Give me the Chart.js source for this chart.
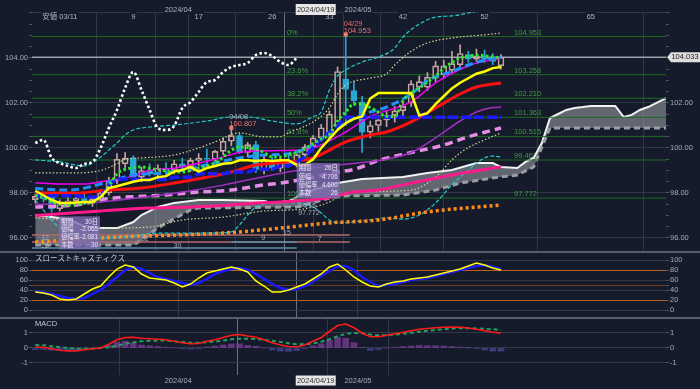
<!DOCTYPE html>
<html lang="ja">
<head>
<meta charset="utf-8">
<title>一目均衡表</title>
<script src="https://cdn.jsdelivr.net/npm/chart.js@4.4.1/dist/chart.umd.min.js"></script>
<style>
  html, body { margin: 0; padding: 0; background: #151b2a; }
  #wrap { position: relative; width: 700px; height: 389px; overflow: hidden; background: #151b2a; }
  canvas { position: absolute; left: 0; }
  .divider { position: absolute; left: 0; width: 700px; height: 2px; background: #565c69; }
</style>
</head>
<body>
<div id="wrap">
  <canvas id="mainChart" width="700" height="251" style="top:0"></canvas>
  <div class="divider" style="top:251px"></div>
  <canvas id="stochChart" width="700" height="64" style="top:253px"></canvas>
  <div class="divider" style="top:317px"></div>
  <canvas id="macdChart" width="700" height="70" style="top:319px"></canvas>
</div>
<script>
// bar index 0 = 03/11, one bar per weekday
const FIRST_BAR = -3;
const X_MIN = -3.4, X_MAX = 74.2;

// candles, bars -3 .. 54
const candleOpen = [97.70, 97.85, 97.85, 97.30, 97.60, 97.65, 97.75, 97.55, 97.75, 98.00,
  98.55, 99.30, 99.55, 98.70, 99.00, 98.85, 99.10, 99.00, 99.30, 99.15,
  99.45, 99.55, 99.50, 99.85, 100.30, 100.55, 99.80, 100.15, 99.05, 99.45,
  99.10, 99.40, 99.30, 99.70, 100.05, 100.45, 100.60, 101.00, 103.05, 102.55,
  102.05, 100.70, 101.00, 101.25, 101.45, 101.65, 102.00, 102.70, 102.70, 103.10,
  103.25, 103.45, 103.70, 104.15, 103.95, 104.10, 103.95, 103.65];
const candleHigh = [97.95, 98.05, 97.95, 97.70, 97.80, 97.90, 97.95, 97.85, 98.10, 98.70,
  99.75, 99.80, 99.65, 99.15, 99.30, 99.25, 99.35, 99.45, 99.55, 99.55,
  99.75, 99.95, 99.90, 100.45, 100.807, 100.65, 100.25, 100.30, 99.65, 99.60,
  99.55, 99.70, 99.85, 100.15, 100.55, 101.05, 101.65, 103.60, 104.953, 102.95,
  102.30, 101.20, 101.45, 101.65, 101.85, 102.05, 103.00, 103.20, 103.35, 103.85,
  103.90, 104.30, 104.58, 104.30, 104.40, 104.35, 104.20, 104.15];
const candleLow = [97.55, 97.60, 97.15, 97.20, 97.40, 97.45, 97.50, 97.40, 97.60, 97.90,
  98.40, 99.05, 98.55, 98.50, 98.75, 98.65, 98.80, 98.85, 99.00, 98.95,
  99.20, 99.35, 99.35, 99.70, 100.10, 99.75, 99.60, 98.90, 98.85, 99.00,
  98.95, 99.15, 99.15, 99.50, 99.90, 100.30, 100.40, 100.90, 101.00, 101.90,
  99.80, 100.45, 100.75, 100.95, 101.15, 101.35, 101.85, 102.50, 102.55, 102.95,
  103.10, 103.30, 103.55, 103.80, 103.85, 103.80, 103.70, 103.50];
const candleClose = [97.85, 97.75, 97.30, 97.60, 97.65, 97.75, 97.55, 97.75, 98.00, 98.55,
  99.50, 99.55, 98.70, 99.00, 98.85, 99.10, 99.00, 99.30, 99.15, 99.45,
  99.55, 99.50, 99.85, 100.30, 100.55, 99.80, 100.15, 99.05, 99.45, 99.10,
  99.40, 99.30, 99.70, 100.05, 100.45, 100.90, 101.50, 103.40, 102.60, 102.10,
  100.70, 101.00, 101.25, 101.45, 101.65, 101.85, 102.85, 102.95, 103.15, 103.65,
  103.65, 103.75, 104.20, 103.95, 104.10, 103.95, 103.85, 104.033];

// per-bar indicator lines, bars -3 .. 54
const tenkanSen = [98.10, 97.90, 97.69, 97.56, 97.56, 97.58, 97.60, 97.60, 97.82, 98.22,
  98.30, 98.40, 98.50, 98.58, 98.58, 98.70, 98.75, 98.95, 99.02, 99.16,
  98.95, 99.11, 99.20, 99.30, 99.33, 99.45, 99.45, 99.42, 99.45, 99.42,
  99.45, 99.45, 99.24, 99.25, 99.50, 100.00, 100.40, 100.80, 101.10, 101.30,
  101.40, 102.20, 102.44, 102.44, 102.44, 102.44, 102.44, 101.45, 101.55, 101.95,
  102.30, 102.65, 102.90, 103.10, 103.30, 103.40, 103.55, 103.60];
const kijunSen = [97.88, 97.88, 97.88, 97.88, 97.88, 97.88, 97.82, 97.82, 97.82, 98.36,
  98.62, 98.62, 98.62, 98.60, 98.60, 98.60, 98.60, 98.70, 98.70, 98.70,
  98.85, 98.85, 98.85, 98.85, 98.93, 98.93, 98.93, 99.05, 99.05, 99.05,
  99.20, 99.20, 99.38, 99.60, 100.00, 100.40, 100.70, 101.00, 101.363, 101.363,
  101.363, 101.363, 101.363, 101.363, 101.363, 101.363, 101.363, 101.363, 101.363, 101.363,
  101.363, 101.363, 101.363, 101.363, 101.363, 101.363, 101.363, 101.363];
const fastAvg = [97.90, 97.80, 97.60, 97.50, 97.45, 97.50, 97.55, 97.60, 97.80, 98.30,
  98.85, 99.05, 99.12, 99.16, 99.10, 99.03, 98.98, 98.93, 98.93, 99.00,
  99.10, 99.20, 99.33, 99.60, 99.90, 100.04, 100.02, 99.95, 99.80, 99.60,
  99.60, 99.70, 99.80, 99.95, 100.20, 100.40, 100.60, 101.20, 101.60, 101.95,
  101.95, 101.80, 101.60, 101.40, 101.40, 102.10, 102.45, 102.67, 102.93, 103.20,
  103.55, 103.80, 104.00, 104.08, 104.13, 104.10, 104.05, 104.00];
// lagging span, bars -3 .. 29
const chikouSpan = [100.22, 100.36, 99.56, 99.33, 99.20, 99.11, 99.29, 99.38, 100.00, 100.89,
  101.69, 102.67, 103.38, 102.58, 101.69, 100.89, 100.80, 100.98, 101.78, 102.04,
  102.49, 102.93, 103.02, 103.38, 103.60, 103.69, 103.78, 104.13, 104.22, 104.09,
  103.82, 103.69, 104.00];

// smooth lines read as [bar, value]
const senkouA = [[-3, 97.02], [-1, 96.93], [1, 96.84], [3, 96.53], [5, 96.44], [7, 96.44], [9, 96.71],
  [10, 97.02], [12, 97.38], [14, 97.56], [17, 97.69], [20, 97.69], [25, 97.64], [26, 97.56], [28, 97.64],
  [29, 97.82], [31, 98.13], [34, 98.44], [37, 98.62], [42, 98.71], [45, 98.89], [48, 99.02], [51, 99.33],
  [53, 99.33], [54, 99.16], [56, 99.11], [57, 99.38], [58, 99.56], [59, 100.22], [60, 101.33], [61, 101.51],
  [62, 101.69], [63, 101.78], [64, 101.82], [65, 101.87], [68, 101.87], [69, 101.38], [70, 101.47],
  [71, 101.69], [72, 101.82], [74.2, 102.22]];
const senkouB = [[-3, 95.69], [9, 95.69], [10, 95.91], [11, 96.18], [12, 96.45], [13, 96.65], [14, 96.85],
  [15, 97.05], [16, 97.25], [17, 97.33], [29, 97.38], [30, 97.47], [33, 97.78], [35, 97.87], [42, 97.91],
  [46, 98.13], [49, 98.44], [53, 98.67], [56, 98.80], [58, 99.16], [59, 100.04], [60, 100.89], [74.2, 100.89]];
const bandUpperWide = [[-3, 99.47], [0, 99.38], [3, 99.2], [5, 99.6], [6, 99.91], [7, 100.22], [8, 100.58],
  [9, 100.8], [11, 100.93], [14, 101.02], [18, 101.2], [21, 101.38], [23, 101.38], [26, 101.2], [29, 101.07],
  [31, 101.4], [32, 101.6], [33, 102.58], [34, 103.2], [35, 103.47], [37, 103.82], [39, 104.04], [41, 104.44],
  [42, 104.93], [44, 105.51], [46, 105.82], [48, 105.87], [50, 106.0], [52, 106.15], [54, 106.3]];
const bandLowerWide = [[-3, 97.69], [-2, 97.24], [-1, 96.8], [0, 96.44], [2, 96.13], [5, 96.0], [9, 96.09],
  [12, 96.22], [18, 96.22], [21, 96.27], [22, 96.58], [23, 97.02], [24, 97.38], [25, 97.51], [27, 97.56],
  [29, 97.56], [31, 97.38], [32, 97.11], [33, 96.8], [34, 96.67], [37, 96.76], [40, 96.89], [42, 96.84],
  [44, 97.02], [46, 97.56], [48, 98.36], [50, 99.02], [52, 99.56], [53, 99.64], [54, 99.6]];
const bandUpperNarrow = [[-3, 98.89], [1, 98.89], [5, 99.0], [7, 99.3], [8, 99.5], [10, 99.56], [14, 99.69],
  [17, 100.0], [19, 100.27], [22, 100.67], [25, 100.49], [27, 100.5], [28, 100.67], [31, 101.16],
  [33, 101.78], [34, 102.4], [35, 102.8], [38, 103.11], [40, 103.3], [41, 103.69], [43, 104.3], [45, 104.67],
  [48, 104.89], [52, 105.03], [54, 105.11]];
const bandLowerNarrow = [[-3, 96.9], [0, 96.8], [5, 96.44], [11, 96.49], [15, 96.8], [20, 96.93], [25, 97.2],
  [30, 97.3], [33, 97.6], [35, 98.0], [43, 98.13], [46, 98.71], [48, 99.47], [49.5, 99.91], [52, 100.36],
  [54, 100.67]];
const avgRed = [[-3, 98.0], [2, 98.0], [6, 98.13], [10, 98.22], [14, 98.44], [18, 98.7], [21, 98.93],
  [24, 99.24], [27, 99.35], [31, 99.56], [35, 100.27], [38, 100.58], [40, 100.71], [43, 101.16],
  [46, 101.78], [49, 102.4], [51, 102.71], [54, 102.89]];
const avgBlue = [[-3, 98.2], [1, 98.13], [6, 98.49], [9, 98.8], [13, 98.89], [15, 99.02], [19, 99.33],
  [22, 99.56], [25, 99.69], [28, 99.75], [31, 100.13], [34, 100.9], [37, 101.47], [40, 101.82], [43, 102.4],
  [45, 103.0], [48, 103.4], [50, 103.69], [52, 103.9], [54, 104.04]];
const avgMagenta = [[-3, 98.45], [0, 98.4], [3, 98.4], [5, 98.5], [7, 98.6], [9, 98.75], [11, 99.0],
  [14, 99.1], [19, 99.5], [22, 99.8], [26, 99.88], [29, 99.9], [31, 100.0], [35, 100.71], [38, 101.4],
  [43, 102.05], [46, 102.89], [49, 103.5], [51, 103.78], [54, 104.0]];
const avgPurple = [[-3, 97.5], [0, 97.5], [5, 97.6], [10, 97.8], [15, 98.04], [20, 98.35], [23, 98.58],
  [26, 98.8], [29, 99.0], [33, 99.2], [37, 99.35], [40, 99.5], [43, 99.8], [46, 100.45], [49, 101.2],
  [51, 101.6], [53, 101.8], [54, 101.82]];
const avgViolet = [[-3, 97.38], [2, 97.47], [6, 97.75], [13, 97.91], [17, 98.04], [21, 98.13], [25, 98.36],
  [27, 98.44], [31, 98.7], [34, 98.93], [36, 99.05], [39, 99.45], [43, 99.8], [47, 100.13], [50, 100.5],
  [52, 100.7], [54, 100.89]];
const avgPink = [[-3, 97.0], [5, 97.2], [11, 97.33], [16, 97.38], [21, 97.47], [24, 97.56], [27, 97.6],
  [31, 97.7], [33, 97.8], [36, 98.05], [39, 98.13], [42, 98.36], [45, 98.58], [48, 98.8], [54, 99.16]];
const avgOrange = [[-3, 95.82], [7, 96.04], [20, 96.22], [27, 96.44], [33, 96.67], [39, 96.8], [45, 97.16],
  [54, 97.47]];

// retracement levels, last price, count rows
const fibNames = ['0%', '23.6%', '38.2%', '50%', '61.8%', '76.4%', '100%'];
const fibLevels = [104.953, 103.258, 102.210, 101.363, 100.515, 99.467, 97.772];
const lastPrice = 104.033;
const countRows = [96.13, 95.82, 95.56];

// oscillators, bars -3 .. 54
const stochK = [36, 34, 30, 22, 20, 22, 32, 42, 48, 66, 82, 90, 86, 72, 64, 62, 60, 54, 46, 52,
  64, 74, 78, 82, 86, 82, 76, 58, 48, 36, 36, 40, 46, 52, 62, 72, 86, 92, 80, 66,
  56, 48, 46, 52, 56, 58, 62, 64, 66, 70, 74, 78, 82, 88, 94, 90, 84, 80];
const stochD = [37, 35, 32, 28, 24, 22, 24, 32, 40, 52, 66, 80, 86, 82, 74, 66, 62, 58, 54, 50,
  54, 62, 72, 78, 82, 84, 80, 72, 62, 52, 44, 40, 42, 48, 56, 68, 78, 87, 88, 80,
  66, 56, 48, 50, 52, 56, 60, 62, 64, 68, 72, 76, 80, 84, 88, 90, 86, 82];
const macdLine = [0.05, 0.05, -0.05, -0.15, -0.2, -0.2, -0.12, -0.05, 0.0, 0.25,
  0.55, 0.7, 0.72, 0.65, 0.62, 0.58, 0.55, 0.45, 0.35, 0.28,
  0.3, 0.45, 0.55, 0.7, 0.85, 0.9, 0.8, 0.72, 0.55, 0.35,
  0.2, 0.1, 0.08, 0.2, 0.45, 0.7, 1.1, 1.5, 1.6, 1.35,
  1.0, 0.75, 0.75, 0.85, 0.95, 1.05, 1.15, 1.25, 1.3, 1.35,
  1.38, 1.4, 1.38, 1.33, 1.25, 1.15, 1.05, 1.0];
const macdSignal = [0.2, 0.18, 0.12, 0.05, 0.0, -0.05, -0.05, -0.05, 0.0, 0.05,
  0.15, 0.28, 0.38, 0.45, 0.48, 0.5, 0.5, 0.45, 0.4, 0.35,
  0.35, 0.38, 0.42, 0.5, 0.58, 0.62, 0.62, 0.6, 0.55, 0.48,
  0.4, 0.32, 0.25, 0.25, 0.3, 0.42, 0.58, 0.78, 0.95, 1.0,
  0.98, 0.9, 0.85, 0.85, 0.9, 0.95, 1.02, 1.08, 1.15, 1.2,
  1.25, 1.3, 1.32, 1.32, 1.3, 1.28, 1.25, 1.2];
const macdHist = [-0.1, -0.1, -0.15, -0.18, -0.2, -0.15, -0.08, -0.02, 0.0, 0.18,
  0.4, 0.45, 0.35, 0.2, 0.15, 0.1, 0.05, 0.0, -0.05, -0.07,
  -0.05, 0.07, 0.13, 0.2, 0.27, 0.28, 0.18, 0.12, 0.0, -0.13,
  -0.2, -0.22, -0.17, -0.05, 0.15, 0.28, 0.52, 0.72, 0.65, 0.35,
  0.02, -0.15, -0.1, 0.0, 0.05, 0.1, 0.13, 0.17, 0.15, 0.15,
  0.13, 0.1, 0.06, 0.01, -0.05, -0.13, -0.2, -0.2];

// axis labels
const topTickBars = [0, 9, 17, 26, 33, 42, 52, 65];
const topTickText = ['安値 03/11', '9', '17', '26', '33', '42', '52', '65'];
const monthBars = [14.5, 36.5];
const monthText = ['2024/04', '2024/05'];
const cursorBar = 29;
const cursorText = '2024/04/19';

const FONT = '"Liberation Sans", "Noto Sans CJK JP", sans-serif';
const BG = '#151b2a';
const GRID = '#303847';
const UP = '#c7a39f';
const DOWN = '#2aa6d1';
Chart.defaults.font.family = FONT;
Chart.defaults.font.size = 7.5;
Chart.defaults.color = '#a8acb4';

const perBar = vals => vals.map((y, i) => ({ x: FIRST_BAR + i, y }));
const knots = pairs => pairs.map(([x, y]) => ({ x, y }));
const flat = (v, from, to) => [{ x: from, y: v }, { x: to, y: v }];
const isUp = i => candleClose[i] >= candleOpen[i];

function lineSet(data, color, width, dash, order, smooth) {
  return {
    type: 'line', data, yAxisID: 'y', borderColor: color, borderWidth: width,
    borderDash: dash || [], pointRadius: 0, fill: false, order,
    tension: 0, cubicInterpolationMode: smooth ? 'monotone' : 'default'
  };
}

function xAxis(gridBars, labelOf, height) {
  return {
    type: 'linear', min: X_MIN, max: X_MAX, offset: false,
    afterBuildTicks: s => { s.ticks = gridBars.map(v => ({ value: v })); },
    afterFit: s => { s.height = height; s.paddingLeft = 0; s.paddingRight = 0; },
    ticks: { display: height > 0, autoSkip: false, maxRotation: 0, padding: 1, callback: v => labelOf(v) },
    grid: { color: c => (c.tick && c.tick.value === cursorBar) ? '#6a7181' : GRID, drawTicks: false },
    border: { display: false }
  };
}

function yAxis(position, min, max, tickVals, labelOf, lineColor, onArea, width) {
  return {
    type: 'linear', position, min, max,
    afterBuildTicks: s => { s.ticks = tickVals.map(v => ({ value: v })); },
    afterFit: s => { s.width = width; s.paddingTop = 0; s.paddingBottom = 0; },
    ticks: { autoSkip: false, padding: 1, callback: v => labelOf(v) },
    grid: { color: lineColor, drawOnChartArea: onArea, tickLength: 3, tickColor: '#4d5464' },
    border: { display: false }
  };
}

function baseOptions(scales, padTop) {
  return {
    responsive: false, animation: false, events: [],
    layout: { padding: { top: padTop, right: 0, bottom: 0, left: 0 } },
    plugins: { legend: { display: false }, tooltip: { enabled: false } },
    scales
  };
}

function label(ctx, s, x, y, color, align, size) {
  ctx.font = (size || 7.5) + 'px ' + FONT;
  ctx.fillStyle = color;
  ctx.textAlign = align || 'left';
  ctx.textBaseline = 'middle';
  ctx.fillText(s, x, y);
}

function tag(ctx, s, x, y, color) {
  ctx.font = '7.5px ' + FONT;
  const w = ctx.measureText(s).width + 2;
  ctx.fillStyle = BG;
  ctx.fillRect(x - w / 2, y - 5, w, 10);
  label(ctx, s, x, y, color, 'center');
}

function infoBox(ctx, left, top, w, h, values) {
  const rows = ['期間', '値幅', '値幅率', '本数'];
  ctx.fillStyle = 'rgba(126,108,178,0.82)';
  ctx.fillRect(left, top, w, h);
  rows.forEach((r, i) => {
    const yy = top + 5.5 + i * (h - 10) / 3;
    label(ctx, r, left + 2, yy, '#ece8f6', 'left', 6.3);
    label(ctx, values[i], left + w - 2, yy, '#ece8f6', 'right', 6.3);
  });
}

// ---------- main panel ----------
const priceTicks = [];
for (let v = 96; v <= 106; v += 0.5) priceTicks.push(v);
const even = v => Math.abs(v % 2) < 1e-9;

const mainNotes = {
  id: 'mainNotes',
  beforeDatasetsDraw(chart) {
    const { ctx, scales: { x, y } } = chart;
    ctx.save();
    fibLevels.forEach((v, i) => {
      const py = y.getPixelForValue(v) - 4;
      label(ctx, fibNames[i], x.getPixelForValue(27.8), py, '#3f9d3f');
      label(ctx, v.toFixed(3), x.getPixelForValue(55.6), py, '#3f9d3f');
    });
    ctx.restore();
  },
  afterDatasetsDraw(chart) {
    const { ctx, scales: { x, y } } = chart;
    ctx.save();
    topTickBars.forEach((b, i) => tag(ctx, topTickText[i], x.getPixelForValue(b), 17, '#aeb3bb'));
    monthBars.forEach((b, i) => tag(ctx, monthText[i], x.getPixelForValue(b), 9.5, '#aeb3bb'));

    const cx = x.getPixelForValue(cursorBar);
    ctx.fillStyle = '#e6e6e6';
    ctx.fillRect(cx - 1, 4, 40, 11);
    label(ctx, cursorText, cx + 19, 9.5, '#333333', 'center');

    // high marks
    [[35, 104.953, '04/29', '#f06a6a'], [21, 100.807, '04/08', '#a9a6b4']].forEach(([b, v, d, dc]) => {
      const px = x.getPixelForValue(b), py = y.getPixelForValue(v);
      ctx.fillStyle = '#f07c7c';
      ctx.fillRect(px - 2, py - 4, 4, 4);
      label(ctx, d, px - 2, py - 13, dc);
      label(ctx, v.toFixed(3), px - 2, py - 6, '#f07070');
    });

    // cycle counts
    [['12', -1.8, 96.0], ['22', 10.4, 95.96], ['15', 27.8, 96.22], ['9', 24.9, 96.0],
     ['7', 31.8, 95.96], ['28', -1.8, 95.64], ['30', 14.4, 95.64]].forEach(([t, b, v]) => {
      label(ctx, t, x.getPixelForValue(b), y.getPixelForValue(v), '#a9b0bb', 'center', 7);
    });
    label(ctx, '04/15', x.getPixelForValue(29.2), y.getPixelForValue(97.42), '#a6b2c6', 'left', 7);
    label(ctx, '97.772', x.getPixelForValue(29.2), y.getPixelForValue(97.1), '#a6b2c6', 'left', 7);

    infoBox(ctx, x.getPixelForValue(-0.1), y.getPixelForValue(96.96), 41, 33, ['30日', '-2.065', '-2.081', '30']);
    infoBox(ctx, x.getPixelForValue(29), y.getPixelForValue(99.33), 43, 35, ['26日', '4.706', '4.600', '26']);

    // last price tag
    const py = y.getPixelForValue(lastPrice);
    const rx = chart.chartArea.right;
    ctx.fillStyle = '#dedede';
    ctx.beginPath();
    ctx.moveTo(rx + 1, py);
    ctx.lineTo(rx + 5, py - 5);
    ctx.lineTo(700, py - 5);
    ctx.lineTo(700, py + 5);
    ctx.lineTo(rx + 5, py + 5);
    ctx.closePath();
    ctx.fill();
    label(ctx, lastPrice.toFixed(3), rx + 19, py, '#222222', 'center');
    ctx.restore();
  }
};

const bodyData = candleOpen.map((o, i) => ({ x: FIRST_BAR + i, y: [o, candleClose[i]] }));
const wickHighData = candleOpen.map((o, i) => ({ x: FIRST_BAR + i, y: [Math.max(o, candleClose[i]), candleHigh[i]] }));
const wickLowData = candleOpen.map((o, i) => ({ x: FIRST_BAR + i, y: [candleLow[i], Math.min(o, candleClose[i])] }));
const wickColor = c => isUp(c.dataIndex) ? UP : DOWN;

const mainDatasets = [
  Object.assign(lineSet(knots(senkouA), '#f2f2f2', 2, [], 41), { fill: '+1', backgroundColor: 'rgba(150,153,162,0.6)' }),
  lineSet(knots(senkouB), '#9a9da4', 3, [6, 4], 40),
  ...fibLevels.map(v => lineSet(flat(v, X_MIN, X_MAX), '#1f6a24', 1, [], 31)),
  lineSet(flat(lastPrice, X_MIN, X_MAX), '#9ea2aa', 1.5, [], 30),
  lineSet(flat(countRows[0], X_MIN, 35.5), '#b56b6b', 1.5, [], 29),
  lineSet(flat(countRows[1], X_MIN, 35.5), '#b56b6b', 1.5, [], 29),
  lineSet(flat(countRows[1], 21, 29), '#5f8fa8', 1.5, [], 28),
  lineSet(flat(countRows[2], X_MIN, 29), '#5f8fa8', 1.5, [], 29),
  { type: 'bar', data: wickLowData, yAxisID: 'y', grouped: false, barThickness: 1, borderWidth: 0, backgroundColor: wickColor, order: 21 },
  { type: 'bar', data: wickHighData, yAxisID: 'y', grouped: false, barThickness: 1, borderWidth: 0, backgroundColor: wickColor, order: 21 },
  { type: 'bar', data: bodyData, yAxisID: 'y', grouped: false, barThickness: 6, borderWidth: 1, borderSkipped: false,
    backgroundColor: c => isUp(c.dataIndex) ? 'rgba(0,0,0,0)' : DOWN, borderColor: wickColor, order: 20 },
  lineSet(knots(bandUpperNarrow), '#d6d49a', 1.2, [1.5, 2], 13, true),
  lineSet(knots(bandLowerNarrow), '#d6d49a', 1.2, [1.5, 2], 13, true),
  lineSet(knots(bandUpperWide), '#22cccc', 1.2, [4, 2], 12, true),
  lineSet(knots(bandLowerWide), '#22cccc', 1.2, [4, 2], 12, true),
  lineSet(knots(avgOrange), '#ff8c1a', 3.5, [3, 3], 11, true),
  lineSet(knots(avgPink), '#ff1a8c', 3, [], 10, true),
  lineSet(knots(avgViolet), '#e58de5', 3.5, [8, 5], 9, true),
  lineSet(knots(avgPurple), '#a030c0', 1.5, [], 8, true),
  lineSet(knots(avgMagenta), '#f000f0', 1.5, [], 7, true),
  lineSet(knots(avgRed), '#ff1010', 3, [], 6, true),
  lineSet(knots(avgBlue), '#2090ff', 3, [8, 4], 5, true),
  lineSet(perBar(kijunSen), '#1c1cff', 3.5, [10, 3], 4),
  lineSet(perBar(fastAvg), '#2ee82e', 3, [2.5, 2.5], 3, true),
  lineSet(perBar(tenkanSen), '#ffff00', 2.5, [], 2),
  lineSet(perBar(chikouSpan), '#ffffff', 2.6, [2.5, 2.5], 1, true)
];

new Chart(document.getElementById('mainChart'), {
  type: 'line',
  data: { datasets: mainDatasets },
  options: baseOptions({
    x: xAxis([0, 9, 14.5, 17, 26, 29, 33, 36.5, 42, 52, 65], () => '', 0),
    y: yAxis('left', 95.422, 106.044, priceTicks, v => (even(v) && v <= 104) ? v.toFixed(2) : '',
      c => even(c.tick.value) ? GRID : 'rgba(0,0,0,0)', true, 32),
    yR: yAxis('right', 95.422, 106.044, priceTicks, v => (even(v) && v <= 102) ? v.toFixed(2) : '',
      GRID, false, 34)
  }, 12),
  plugins: [mainNotes]
});

// ---------- slow stochastics ----------
const stochGrid = { 0: GRID, 20: '#b8601c', 40: GRID, 50: '#6a3b20', 60: GRID, 80: '#b8601c', 100: GRID };
new Chart(document.getElementById('stochChart'), {
  type: 'line',
  data: {
    datasets: [
      lineSet(perBar(stochK), '#ffff00', 1.5, [], 1),
      lineSet(perBar(stochD), '#1a1aff', 2.5, [], 2)
    ]
  },
  options: baseOptions({
    x: xAxis([14.5, 29, 36.5], () => '', 0),
    y: yAxis('left', -14, 114, [0, 20, 40, 50, 60, 80, 100], v => v === 50 ? '' : String(v),
      c => stochGrid[c.tick.value] || GRID, true, 32),
    yR: yAxis('right', -14, 114, [0, 20, 40, 50, 60, 80, 100], v => v === 50 ? '' : String(v), GRID, false, 34)
  }, 0),
  plugins: [{
    id: 'stochTitle',
    afterDatasetsDraw(chart) {
      chart.ctx.save();
      label(chart.ctx, 'スローストキャスティクス', 35, 5.5, '#c4c8d0', 'left', 7.5);
      chart.ctx.restore();
    }
  }]
});

// ---------- MACD ----------
new Chart(document.getElementById('macdChart'), {
  type: 'line',
  data: {
    datasets: [
      lineSet(perBar(macdLine), '#ff1a1a', 1.6, [], 1),
      lineSet(perBar(macdSignal), '#21a060', 2, [4, 3], 2),
      { type: 'bar', data: perBar(macdHist), yAxisID: 'y', barThickness: 6, borderWidth: 0, order: 3,
        backgroundColor: c => macdHist[c.dataIndex] >= 0 ? 'rgba(128,64,160,0.7)' : 'rgba(82,74,170,0.7)' }
    ]
  },
  options: baseOptions({
    x: xAxis([14.5, 29, 36.5], v => v === 14.5 ? monthText[0] : (v === 36.5 ? monthText[1] : ''), 14),
    y: yAxis('left', -1.8, 1.9333, [-1, 0, 1], v => String(v), GRID, true, 32),
    yR: yAxis('right', -1.8, 1.9333, [-1, 0, 1], v => String(v), GRID, false, 34)
  }, 0),
  plugins: [{
    id: 'macdNotes',
    afterDatasetsDraw(chart) {
      const { ctx, scales: { x } } = chart;
      ctx.save();
      label(ctx, 'MACD', 35, 5, '#c4c8d0', 'left', 7.5);
      const cx = x.getPixelForValue(cursorBar);
      ctx.fillStyle = '#e6e6e6';
      ctx.fillRect(cx - 1, 56.5, 40, 10);
      label(ctx, cursorText, cx + 19, 61.5, '#333333', 'center');
      ctx.restore();
    }
  }]
});
</script>
</body>
</html>
